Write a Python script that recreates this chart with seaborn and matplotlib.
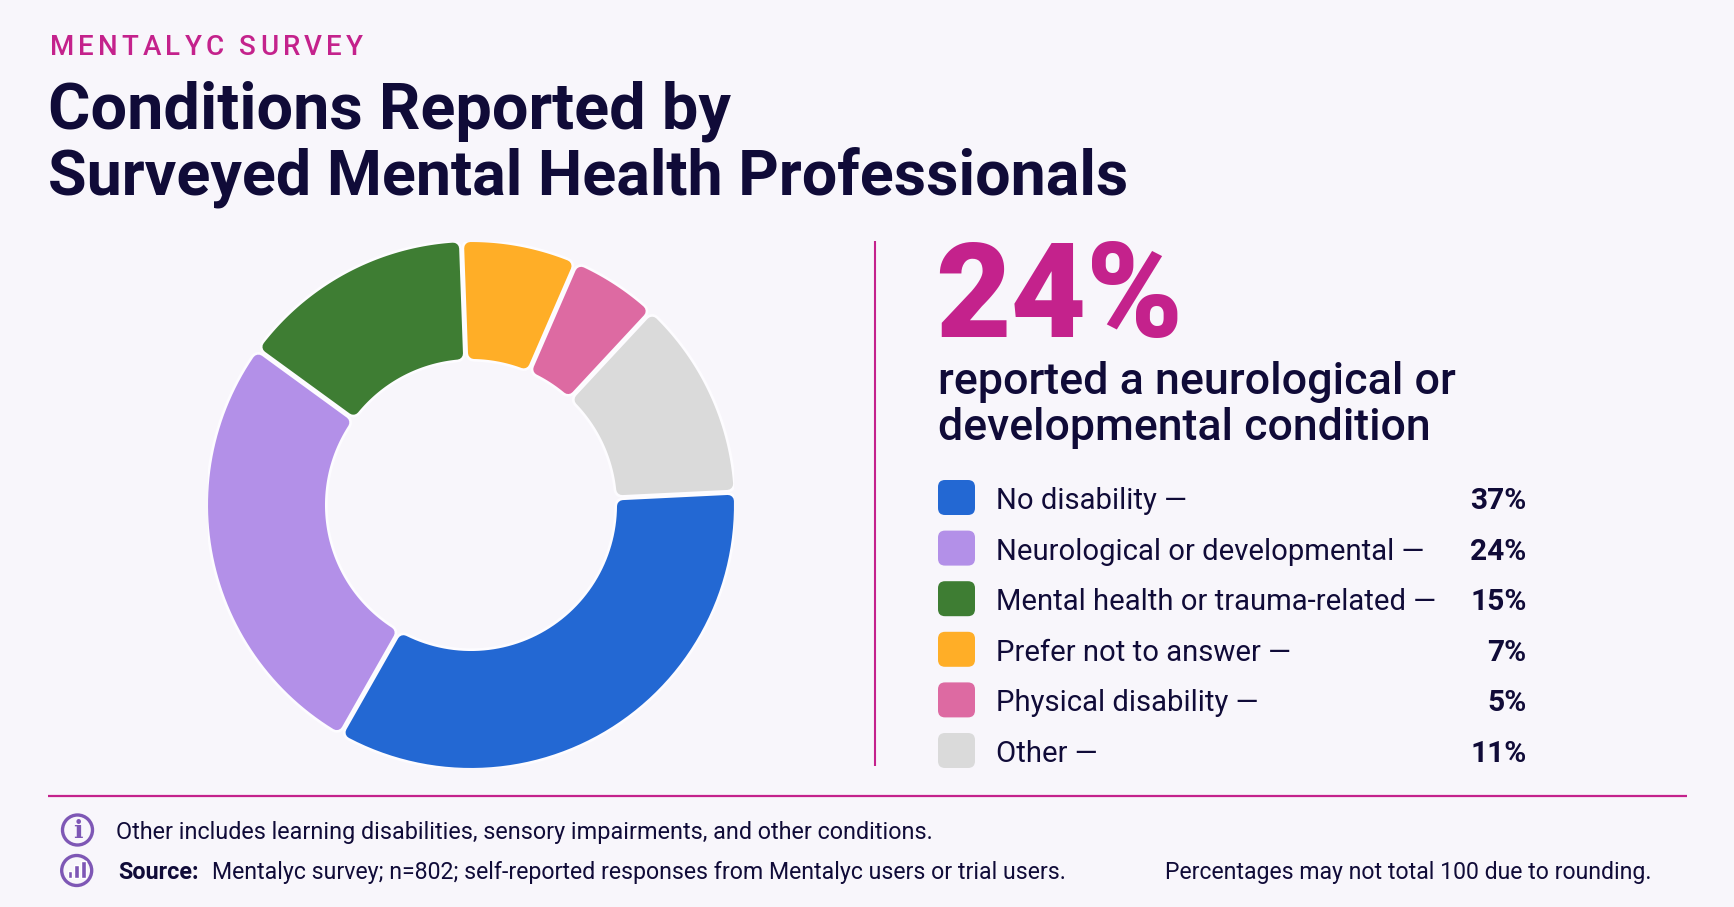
import numpy as np
import matplotlib
matplotlib.use("Agg")
import matplotlib.pyplot as plt
import seaborn as sns
from matplotlib.patches import Circle, FancyBboxPatch, Polygon

# ---- data ----
categories = ["No disability", "Neurological or developmental", "Mental health or trauma-related",
              "Prefer not to answer", "Physical disability", "Other"]
printed_pct = ["37%", "24%", "15%", "7%", "5%", "11%"]
# arc shares as measured on the ring (they differ a little from the printed labels)
arc_shares = [34.0, 26.8, 14.4, 7.1, 5.4, 12.3]
slice_colors = ["#2368d3", "#b390e8", "#3e7d33", "#ffae27", "#dd6aa2", "#dadada"]
icon_bars = [7, 12.7, 17]

BG = "#f8f6fb"
INK = "#100b38"
MAGENTA = "#c4228c"
ICON = "#7e57b5"
W, H = 1734, 907

sns.set_theme(style="white")
plt.rcParams["font.family"] = ["Roboto", "DejaVu Sans"]
palette = sns.color_palette(slice_colors)

fig = plt.figure(figsize=(W / 100, H / 100), dpi=100, facecolor=BG)

# ---- donut ----
CX, CY, R, R_IN = 471, 505, 263, 146
ax = fig.add_axes([(CX - R) / W, 1 - (CY + R) / H, 2 * R / W, 2 * R / H])
wedges, _ = ax.pie(arc_shares, colors=palette, startangle=2.8, counterclock=False,
                   radius=1, wedgeprops=dict(width=(R - R_IN) / R))
ax.set_xlim(-1, 1)
ax.set_ylim(-1, 1)


def round_slice(wedge, color):
    # inset polygon, then a thick round-joined stroke gives the soft corners
    corner, gap = 6 / R, 2.5 / R
    r_out, r_in = 1 - corner, R_IN / R + corner
    off = corner + gap
    t1, t2 = np.radians(wedge.theta1), np.radians(wedge.theta2)
    a_out = np.linspace(t1 + off / r_out, t2 - off / r_out, 60)
    a_in = np.linspace(t2 - off / r_in, t1 + off / r_in, 60)
    pts = np.r_[np.c_[r_out * np.cos(a_out), r_out * np.sin(a_out)],
                np.c_[r_in * np.cos(a_in), r_in * np.sin(a_in)]]
    wedge.set_visible(False)
    ax.add_patch(Polygon(pts, closed=True, fc="#fdfcff", ec="#fdfcff", lw=12.5, joinstyle="round", zorder=2))
    ax.add_patch(Polygon(pts, closed=True, fc=color, ec=color, lw=8.6, joinstyle="round", zorder=3))


for w, c in zip(wedges, palette):
    round_slice(w, c)

# ---- overlay in pixel coordinates for everything else ----
ov = fig.add_axes([0, 0, 1, 1], facecolor="none")
ov.set_xlim(0, W)
ov.set_ylim(H, 0)
ov.axis("off")


def spaced(x, y, s, x_end, **kw):
    # matplotlib has no letter spacing, so lay the kicker out glyph by glyph
    rend = fig.canvas.get_renderer()
    widths = []
    for ch in s:
        t = ov.text(0, 0, "i" if ch == " " else ch, **kw)
        widths.append(t.get_window_extent(rend).width)
        t.remove()
    extra = (x_end - x - sum(widths)) / (len(s) - 1)
    for ch, wd in zip(s, widths):
        ov.text(x, y, ch, **kw)
        x += wd + extra


# header
spaced(49.5, 55, "MENTALYC SURVEY", 363, fontsize=20, color=MAGENTA, fontweight="medium", va="baseline")
ov.text(48, 129, "Conditions Reported by", fontsize=46.7, fontweight="bold", color=INK, va="baseline")
ov.text(48, 194, "Surveyed Mental Health Professionals", fontsize=45.2, fontweight="bold", color=INK, va="baseline")

# divider and callout
ov.plot([875, 875], [241, 766], color=MAGENTA, lw=1.5, solid_capstyle="butt")
ov.text(935, 337, printed_pct[1], fontsize=94, fontweight="black", color=MAGENTA, va="baseline")
ov.text(938, 394, "reported a neurological or", fontsize=32.3, fontweight="medium", color=INK, va="baseline")
ov.text(938, 440, "developmental condition", fontsize=32.1, fontweight="medium", color=INK, va="baseline")

# legend rows
for i, (cat, pct, col) in enumerate(zip(categories, printed_pct, palette)):
    top = 480 + i * 50.6
    ov.add_patch(FancyBboxPatch((942, top + 4), 29, 27, boxstyle="round,pad=4,rounding_size=7",
                                fc=col, ec="none", mutation_aspect=1))
    ov.text(996.5, top + 29, f"{cat} \u2014", fontsize=21.1, color=INK, va="baseline")
    ov.text(1526.5, top + 29, pct, fontsize=21.5, fontweight="bold", color=INK, va="baseline", ha="right")

# footer
ov.plot([47.5, 1687], [795.5, 795.5], color=MAGENTA, lw=1.6, solid_capstyle="butt")
ov.add_patch(Circle((77.5, 830), 15, fc="none", ec=ICON, lw=2.4))
ov.text(77.5, 831, "i", fontsize=18, fontweight="bold", family="DejaVu Serif", color=ICON, ha="center", va="center")
ov.add_patch(Circle((76.7, 870.5), 15, fc="none", ec=ICON, lw=2.4))
for j, h in enumerate(icon_bars):
    ov.bar(70 + j * 6.65, h, width=4.4, bottom=877.7 - h, color=ICON)
ov.set_xlim(0, W)
ov.set_ylim(H, 0)

ov.text(116, 839, "Other includes learning disabilities, sensory impairments, and other conditions.",
        fontsize=16.8, color=INK, va="baseline")
ov.text(118, 879, "Source:", fontsize=16.8, fontweight="bold", color=INK, va="baseline")
ov.text(212, 879, "Mentalyc survey; n=802; self-reported responses from Mentalyc users or trial users.",
        fontsize=16.7, color=INK, va="baseline")
ov.text(1165, 879, "Percentages may not total 100 due to rounding.", fontsize=16.6, color=INK, va="baseline")

fig.savefig("out.png", dpi=100, facecolor=BG)
